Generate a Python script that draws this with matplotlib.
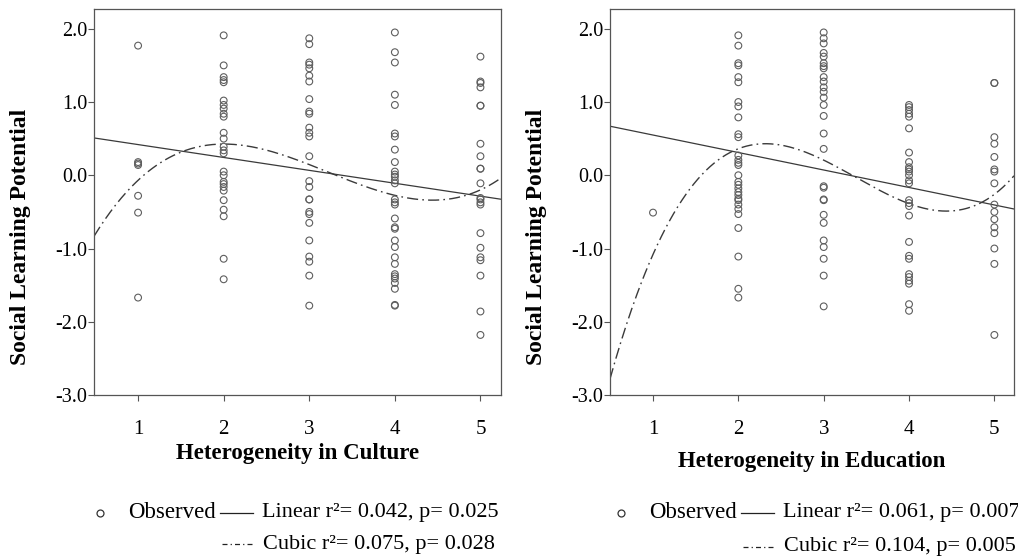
import matplotlib
matplotlib.use('Agg')
import matplotlib.pyplot as plt
import numpy as np
from matplotlib.lines import Line2D
from matplotlib.ticker import FormatStrFormatter

plt.rcParams['font.family'] = ['Liberation Serif', 'DejaVu Serif']

# Social Learning Potential scores grouped by heterogeneity level
levels = [1, 2, 3, 4, 5]

culture_1 = [1.77, 0.18, 0.16, 0.14, -0.28, -0.51, -1.67]
culture_2 = [1.91, 1.50, 1.34, 1.30, 1.27, 1.02, 0.96, 0.91, 0.84, 0.80, 0.58, 0.50,
             0.39, 0.34, 0.30, 0.05, 0.00, -0.09, -0.12, -0.16, -0.21, -0.34, -0.47,
             -0.56, -1.14, -1.42]
culture_3 = [1.87, 1.79, 1.54, 1.51, 1.46, 1.36, 1.28, 1.04, 0.87, 0.84, 0.65, 0.58,
             0.53, 0.26, -0.08, -0.16, -0.33, -0.33, -0.50, -0.53, -0.65, -0.89, -1.11,
             -1.18, -1.37, -1.78]
culture_4 = [1.95, 1.68, 1.54, 1.10, 0.96, 0.57, 0.53, 0.35, 0.18, 0.05, 0.01, -0.02,
             -0.07, -0.11, -0.33, -0.37, -0.40, -0.59, -0.71, -0.73, -0.89, -0.98,
             -1.12, -1.21, -1.35, -1.38, -1.41, -1.47, -1.55, -1.77, -1.78]
culture_5 = [1.62, 1.28, 1.26, 1.20, 0.95, 0.95, 0.43, 0.26, 0.09, 0.09, -0.11, -0.31,
             -0.33, -0.37, -0.40, -0.79, -0.99, -1.12, -1.16, -1.37, -1.86, -2.18]

education_1 = [-0.51]
education_2 = [1.91, 1.77, 1.53, 1.50, 1.34, 1.27, 1.00, 0.94, 0.79, 0.56, 0.52, 0.27,
               0.21, 0.17, 0.14, 0.00, -0.09, -0.13, -0.18, -0.23, -0.27, -0.32, -0.34,
               -0.40, -0.46, -0.53, -0.72, -1.11, -1.55, -1.67]
education_3 = [1.95, 1.87, 1.80, 1.67, 1.62, 1.53, 1.49, 1.46, 1.34, 1.28, 1.20, 1.14,
               1.06, 0.96, 0.81, 0.57, 0.36, -0.15, -0.17, -0.33, -0.34, -0.54, -0.65,
               -0.89, -0.98, -1.14, -1.37, -1.79]
education_4 = [0.96, 0.93, 0.89, 0.84, 0.80, 0.64, 0.31, 0.18, 0.11, 0.08, 0.05, 0.00,
               -0.07, -0.11, -0.34, -0.38, -0.42, -0.55, -0.91, -1.10, -1.14, -1.35,
               -1.39, -1.44, -1.48, -1.76, -1.85]
education_5 = [1.26, 1.26, 0.52, 0.43, 0.25, 0.08, 0.05, -0.11, -0.40, -0.50, -0.60,
               -0.71, -0.79, -1.00, -1.21, -2.18]

# fitted curves (polynomial coefficients, highest power first)
culture_linear = [-0.176, 0.595]
culture_cubic = [0.1058, -1.0222, 2.8206, -1.9726]
education_linear = [-0.2387, 0.788]
education_cubic = [0.1933, -1.959, 5.9667, -5.2816]

culture_legend = ['Observed', 'Linear r²= 0.042, p= 0.025', 'Cubic r²= 0.075, p= 0.028']
education_legend = ['Observed', 'Linear r²= 0.061, p= 0.007', 'Cubic r²= 0.104, p= 0.005']

W, H = 1018, 557
fig = plt.figure(figsize=(W / 100, H / 100), dpi=100)

point_color = '#5e5e5e'
line_color = '#3a3a3a'


def px(x, y):
    return x / W, 1 - y / H


def panel(rect, groups, lin, cub, xlim, xlabel, xlabel_y):
    ax = fig.add_axes(rect)
    for lvl, vals in zip(levels, groups):
        ax.scatter([lvl] * len(vals), vals, s=24, facecolors='none',
                   edgecolors=point_color, linewidths=0.8, zorder=3)
    xs = np.linspace(xlim[0], xlim[1], 300)
    ax.plot(xs, np.polyval(lin, xs), color=line_color, lw=0.9, zorder=2)
    cl, = ax.plot(xs, np.polyval(cub, xs), color=line_color, lw=1.0, zorder=2)
    cl.set_dashes((8, 3, 1.2, 3))
    ax.set_xlim(*xlim)
    ax.set_ylim(-3.0, 2.27)
    ax.set_xticks(levels)
    ax.set_yticks([-3, -2, -1, 0, 1, 2])
    ax.yaxis.set_major_formatter(FormatStrFormatter('%.1f'))
    ax.tick_params(axis='y', length=4, width=0.8, pad=1, labelsize=14.5, color='#555555')
    ax.tick_params(axis='x', length=4, width=0.8, pad=14, labelsize=15, color='#555555')
    for s in ax.spines.values():
        s.set_color('#555555')
        s.set_linewidth(0.9)
    ax.set_ylabel('Social Learning Potential', fontsize=17, fontweight='bold')
    ax.yaxis.set_label_coords(-0.155, 0.41)
    ax.set_xlabel(xlabel, fontsize=16.5, fontweight='bold')
    ax.xaxis.set_label_coords(0.5, xlabel_y)
    return ax


panel([94 / W, 1 - 395 / H, 407 / W, 386 / H],
      [culture_1, culture_2, culture_3, culture_4, culture_5],
      culture_linear, culture_cubic, (0.485, 5.24),
      'Heterogeneity in Culture', -0.125)
panel([610 / W, 1 - 395 / H, 404 / W, 386 / H],
      [education_1, education_2, education_3, education_4, education_5],
      education_linear, education_cubic, (0.496, 5.23),
      'Heterogeneity in Education', -0.145)


# legend rows under each panel
def legend(x0, y1, y2, labels):
    cx, cy = px(x0, y1)
    fig.add_artist(Line2D([cx], [cy], marker='o', markersize=5, markerfacecolor='none',
                          markeredgecolor='#333333', markeredgewidth=0.9))
    fig.text(*px(x0 + 28, y1), labels[0], fontsize=16.5, va='center', ha='left')
    a, b = px(x0 + 120, y1), px(x0 + 153, y1)
    fig.add_artist(Line2D([a[0], b[0]], [a[1], b[1]], color='#222222', lw=0.9))
    fig.text(*px(x0 + 162, y1), labels[1], fontsize=16, va='center', ha='left')
    a, b = px(x0 + 122, y2), px(x0 + 153, y2)
    dl = Line2D([a[0], b[0]], [a[1], b[1]], color='#222222', lw=0.9)
    dl.set_dashes((4, 2.5, 1, 2.5))
    fig.add_artist(dl)
    fig.text(*px(x0 + 163, y2), labels[2], fontsize=16, va='center', ha='left')


legend(100, 513, 544, culture_legend)
legend(621, 513, 547, education_legend)

fig.savefig('out.png', dpi=100)
